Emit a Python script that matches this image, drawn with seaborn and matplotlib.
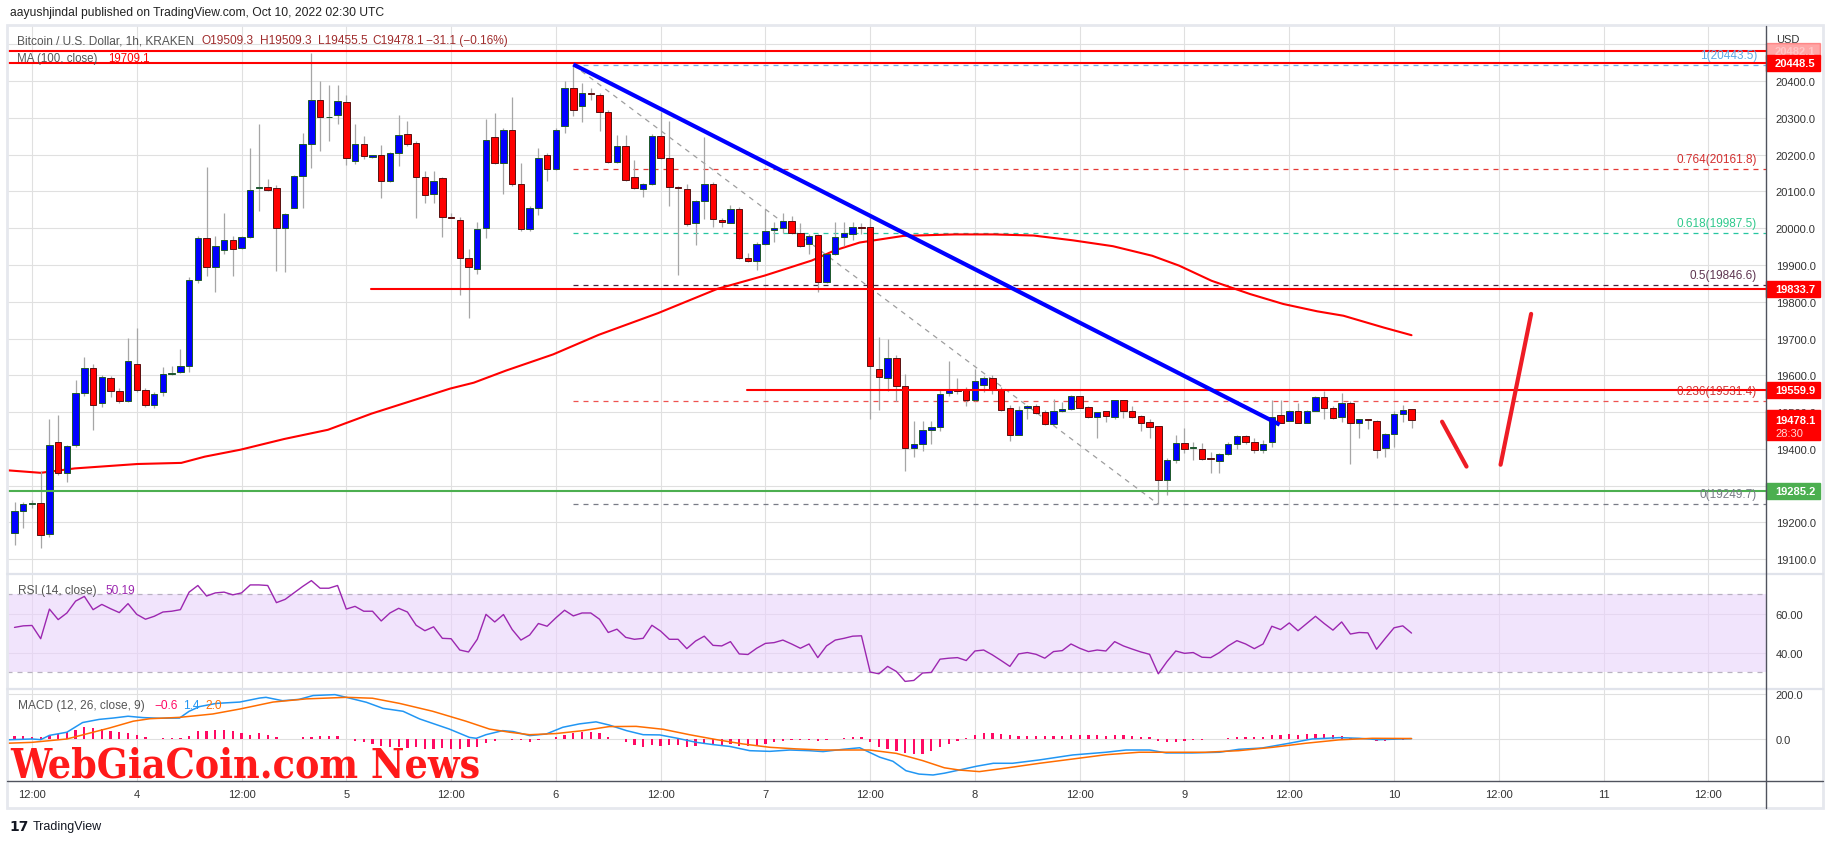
import numpy as np
import pandas as pd
import matplotlib
matplotlib.use("Agg")
import matplotlib.pyplot as plt
import matplotlib.transforms as mtransforms
from matplotlib.patches import Rectangle
from matplotlib.lines import Line2D
from matplotlib import font_manager
import seaborn as sns

# ---------------- DATA ----------------
# hour offsets counted from Oct 3 2022 12:00 UTC (1h candles, BTC/USD Kraken)
candle_hours = list(range(-2, 159))

opens = [
    19172, 19232, 19249, 19254, 19170, 19420, 19335, 19411, 19552, 19620,
    19525, 19593, 19557, 19530, 19632, 19561, 19520, 19554, 19603, 19608,
    19624, 19859, 19972, 19894, 19942, 19967, 19946, 19976, 20108, 20111,
    20108, 20001, 20055, 20142, 20230, 20349, 20301, 20307, 20342, 20183,
    20230, 20194, 20198, 20127, 20203, 20257, 20232, 20138, 20094, 20135,
    20030, 20022, 19919, 19890, 20001, 20247, 20176, 20266, 20120, 19998,
    20055, 20198, 20162, 20279, 20380, 20332, 20367, 20361, 20315, 20181,
    20222, 20138, 20107, 20120, 20250, 20191, 20112, 20107, 20013, 20074,
    20120, 20022, 20015, 20052, 19920, 19910, 19957, 19995, 20001, 20020,
    19988, 19956, 19981, 19854, 19930, 19977, 19985, 20003, 20003, 19616,
    19592, 19646, 19572, 19402, 19414, 19452, 19459, 19551, 19558, 19560,
    19532, 19575, 19593, 19562, 19510, 19439, 19510, 19516, 19500, 19468,
    19502, 19508, 19543, 19513, 19487, 19502, 19487, 19532, 19502, 19489,
    19472, 19461, 19316, 19369, 19416, 19402, 19401, 19373, 19366, 19387,
    19414, 19436, 19419, 19398, 19419, 19491, 19477, 19504, 19471, 19504,
    19542, 19512, 19488, 19525, 19471, 19480, 19477, 19402, 19441, 19496,
    19509.3]

highs = [
    19257, 19257, 19262, 19340, 19481, 19491, 19410, 19588, 19649, 19630,
    19600, 19598, 19565, 19702, 19730, 19565, 19555, 19622, 19626, 19671,
    19868, 19980, 20167, 19980, 20040, 19980, 19980, 20218, 20283, 20133,
    20118, 20042, 20145, 20259, 20476, 20400, 20390, 20388, 20362, 20283,
    20250, 20200, 20226, 20208, 20308, 20290, 20237, 20155, 20155, 20140,
    20042, 20030, 19944, 20018, 20296, 20314, 20271, 20357, 20176, 20061,
    20218, 20203, 20271, 20400, 20443.5, 20395, 20380, 20368, 20320, 20252,
    20253, 20184, 20124, 20257, 20315, 20290, 20115, 20120, 20076, 20247,
    20125, 20027, 20062, 20057, 19932, 19962, 20051, 20017, 20041, 20033,
    20014, 19984, 19983, 19930, 20016, 20016, 20018, 20013, 20037, 19705,
    19698, 19654, 19603, 19477, 19477, 19475, 19560, 19639, 19592, 19568,
    19616, 19598, 19600, 19567, 19519, 19516, 19520, 19522, 19507, 19537,
    19528, 19547, 19545, 19516, 19501, 19504, 19534, 19534, 19516, 19491,
    19481, 19461, 19375, 19439, 19457, 19420, 19415, 19392, 19389, 19418,
    19439, 19439, 19429, 19423, 19534, 19534, 19507, 19525, 19507, 19543,
    19557, 19517, 19551, 19530, 19482, 19482, 19479, 19444, 19502, 19518,
    19509.3]

lows = [
    19140, 19186, 19240, 19132, 19160, 19330, 19310, 19405, 19545, 19452,
    19515, 19541, 19525, 19528, 19555, 19515, 19512, 19545, 19602, 19606,
    19608, 19852, 19870, 19827, 19930, 19871, 19944, 19974, 20047, 20100,
    19883, 19881, 20055, 20055, 20164, 20210, 20238, 20283, 20172, 20175,
    20188, 20190, 20083, 20125, 20169, 20222, 20027, 20068, 20068, 19976,
    20027, 19818, 19757, 19876, 19973, 20174, 20093, 20115, 19993, 19993,
    20037, 20127, 20159, 20259, 20305, 20288, 20348, 20264, 20178, 20178,
    20127, 20107, 20086, 20118, 20188, 20059, 19874, 20006, 19954, 20026,
    20003, 20003, 20013, 19915, 19908, 19886, 19955, 19962, 19988, 19983,
    19949, 19930, 19827, 19850, 19927, 19952, 19967, 19983, 19481, 19505,
    19557, 19530, 19339, 19378, 19393, 19413, 19450, 19543, 19550, 19516,
    19530, 19555, 19550, 19502, 19422, 19437, 19482, 19495, 19464, 19466,
    19501, 19506, 19512, 19484, 19430, 19474, 19482, 19485, 19484, 19448,
    19430, 19249.7, 19275, 19361, 19390, 19370, 19370, 19334, 19334, 19384,
    19400, 19412, 19389, 19389, 19405, 19470, 19475, 19470, 19470, 19502,
    19482, 19480, 19473, 19359, 19430, 19455, 19375, 19378, 19405, 19473,
    19455.5]

closes = [
    19232, 19249, 19252, 19167, 19411, 19335, 19408, 19552, 19620, 19520,
    19596, 19557, 19530, 19640, 19561, 19520, 19549, 19603, 19606, 19624,
    19859, 19972, 19894, 19951, 19967, 19944, 19976, 20103, 20111, 20105,
    20001, 20039, 20142, 20230, 20349, 20302, 20303, 20347, 20190, 20230,
    20195, 20198, 20127, 20203, 20254, 20230, 20138, 20091, 20127, 20031,
    20028, 19919, 19895, 19998, 20240, 20176, 20266, 20120, 19998, 20055,
    20191, 20162, 20266, 20380, 20322, 20367, 20365, 20315, 20181, 20222,
    20132, 20110, 20120, 20250, 20191, 20112, 20110, 20010, 20074, 20120,
    20025, 20018, 20052, 19920, 19910, 19957, 19993, 20001, 20020, 19988,
    19951, 19979, 19854, 19930, 19976, 19988, 20003, 20000, 19624, 19596,
    19646, 19572, 19402, 19414, 19452, 19459, 19548, 19560, 19557, 19532,
    19584, 19593, 19562, 19507, 19439, 19507, 19516, 19498, 19468, 19502,
    19508, 19543, 19512, 19487, 19500, 19490, 19532, 19502, 19487, 19471,
    19460, 19316, 19369, 19416, 19401, 19403, 19373, 19372, 19387, 19414,
    19436, 19419, 19398, 19414, 19488, 19471, 19504, 19471, 19504, 19542,
    19512, 19484, 19525, 19471, 19480, 19479, 19398, 19441, 19496, 19507,
    19478.1]

# MA(100)
ma_hours = [-2.9, 1.0, 4.9, 12.1, 17.1, 19.8, 23.9, 28.9, 33.9, 38.9, 43.4, 47.9,
            50.6, 54.3, 59.7, 64.9, 71.7, 78.5, 83.9, 89.3, 92.0, 94.8, 99.8,
            105.7, 110.2, 114.7, 119.2, 123.8, 128.3, 131.4, 135.1, 139.5,
            143.3, 147.2, 150.2, 154.8, 158.0]
ma_values = [19342, 19335, 19347, 19359, 19362, 19379, 19398, 19427, 19452, 19496,
             19530, 19564, 19580, 19613, 19657, 19710, 19769, 19835, 19871, 19912,
             19940, 19961, 19979, 19983, 19983, 19980, 19967, 19951, 19925, 19898,
             19857, 19821, 19794, 19774, 19762, 19730, 19709.1]

# RSI(14), one value per candle
rsi_values = [
    53.1, 53.9, 54.1, 47.3, 62.5, 57.1, 60.5, 66.6, 69.0, 62.2,
    64.9, 62.7, 60.7, 65.3, 59.8, 57.3, 58.8, 61.0, 61.4, 62.2,
    71.2, 74.6, 69.2, 70.8, 71.2, 69.8, 70.8, 74.9, 74.9, 74.6,
    65.8, 67.5, 70.8, 74.1, 77.1, 73.2, 73.2, 74.6, 62.5, 63.9,
    61.4, 61.4, 56.4, 60.5, 62.9, 61.0, 54.2, 51.4, 53.4, 47.5,
    47.3, 41.5, 40.5, 47.0, 59.8, 55.9, 59.7, 52.0, 46.6, 49.2,
    55.1, 53.7, 58.0, 61.9, 59.0, 60.5, 60.5, 57.3, 50.5, 52.2,
    48.0, 47.0, 47.5, 54.2, 51.2, 47.0, 47.0, 42.2, 46.1, 48.6,
    43.9, 43.6, 45.8, 39.5, 39.2, 42.4, 44.9, 45.3, 46.6, 44.6,
    42.4, 44.6, 37.6, 43.6, 46.6, 47.5, 48.6, 48.8, 30.2, 29.3,
    33.1, 30.5, 25.4, 25.9, 29.7, 30.0, 36.8, 37.3, 37.6, 36.1,
    41.0, 41.5, 39.0, 36.1, 33.1, 39.5, 40.2, 39.3, 37.3, 40.7,
    41.2, 44.6, 42.4, 40.7, 41.5, 41.0, 45.8, 43.6, 42.0, 40.5,
    39.3, 29.3, 35.6, 41.0, 39.8, 40.2, 37.8, 37.6, 40.2, 43.6,
    46.3, 44.6, 42.2, 44.6, 53.7, 52.0, 55.4, 51.4, 55.1, 58.8,
    55.1, 51.7, 55.9, 49.7, 50.5, 50.3, 41.9, 47.5, 52.9, 53.9,
    50.19]

# MACD(12, 26, 9) lines
macd_hours = [-2.9, 0, 1, 2, 4, 5.8, 7.7, 9.3, 11, 12.7, 14.6, 16.9, 18, 19.2, 21.1,
              23.8, 26.1, 26.8, 28.7, 30.6, 32.2, 34.7, 36, 38.3, 40.2, 42.5, 44.4,
              47.8, 50.1, 50.9, 52, 53.9, 55.1, 57, 58.9, 60.8, 62.7, 64.6, 66.1,
              68.1, 70, 71.9, 73.8, 76.1, 78, 79.9, 82.2, 84.5, 86.8, 89, 90.6, 92.9,
              94.8, 95.9, 97.1, 98.6, 100.1, 101.6, 103.2, 104.5, 106.2, 108.2,
              110.1, 112.3, 115.4, 119.2, 123, 125.3, 128, 129.9, 132.9, 136, 138.2,
              140.9, 144, 146.6, 149.7, 152, 154.2, 158]
macd_values = [-4, 0, -3, 16, 30, 73, 87, 93, 101, 95, 92, 93, 123, 144, 158,
               164, 182, 185, 170, 176, 193, 197, 185, 163, 136, 123, 89,
               44, 7, 3, 19, 37, 33, 15, 22, 52, 67, 76, 62,
               37, 19, 18, 4, -15, -25, -33, -52, -55, -49, -52, -56, -46,
               -39, -59, -81, -99, -141, -156, -160, -152, -138, -121,
               -108, -108, -93, -71, -59, -49, -49, -62, -62, -59, -46,
               -40, -19, 0, 6, 3, -3, 1.4]
signal_hours = [-2.9, 0, 4, 6.2, 8.9, 11.6, 13.5, 16.9, 20.7, 23.8, 27.6, 31.4, 36,
                39, 42.1, 45.9, 49.7, 52.4, 54.7, 57, 60, 63.1, 66.1, 69.2, 72.3,
                75.3, 78.4, 81.4, 84.5, 87.5, 90.6, 93.6, 95.9, 99, 102, 104.5,
                106.2, 108.5, 111.6, 115.4, 119.2, 123, 126.8, 130.6, 134.4, 138.2,
                142.1, 145.9, 149.7, 153.5, 158]
signal_values = [-19, -15, 0, 22, 49, 79, 90, 96, 111, 133, 164, 178, 185,
                 181, 158, 123, 79, 44, 30, 19, 24, 37, 55, 56, 43,
                 19, -3, -22, -37, -44, -49, -49, -49, -64, -96, -128,
                 -138, -145, -129, -108, -89, -70, -59, -59, -59, -52,
                 -37, -19, -4, 3, 2.0]
hist_values = [
    15, 12, 7, 7, 15, 22, 30, 40, 52, 49,
    44, 37, 33, 25, 16, 7, 1, 3, 4, 4,
    12, 34, 37, 40, 40, 37, 25, 19, 25, 19,
    7, 1, 0, 7, 10, 13, 13, 13, 0, -7,
    -15, -22, -30, -34, -37, -40, -37, -44, -44, -40,
    -44, -44, -34, -37, -19, -7, 0, -3, -4, -12,
    -3, -1, 7, 19, 25, 30, 33, 27, 7, -1,
    -15, -25, -37, -25, -30, -27, -25, -34, -30, -22,
    -27, -27, -22, -30, -30, -25, -22, -15, -7, -4,
    -4, -3, -7, -4, -1, 4, 10, 10, -15, -34,
    -44, -52, -64, -67, -67, -55, -37, -22, -7, 4,
    18, 27, 25, 22, 18, 13, 13, 13, 13, 13,
    13, 18, 18, 16, 16, 13, 18, 18, 13, 7,
    7, -7, -12, -12, -7, -4, -4, -1, -1, 4,
    7, 7, 7, 7, 18, 18, 21, 16, 21, 21,
    21, 16, 12, 4, 3, 1, -7, -7, -3, -3,
    -0.6]

# drawn levels
fib_prices = [20443.5, 20161.8, 19987.5, 19846.6, 19531.4, 19249.7]
fib_labels = ["1(20443.5)", "0.764(20161.8)", "0.618(19987.5)", "0.5(19846.6)",
              "0.236(19531.4)", "0(19249.7)"]
fib_colors = ["#64b5f6", "#e53935", "#26c6a0", "#4a2040", "#ef5350", "#787b86"]
fib_text_colors = ["#5aa9e6", "#d32f2f", "#2ec98c", "#5d3450", "#d32f2f", "#787b86"]
fib_start = 62

level_prices = [20482.1, 20448.5, 19833.7, 19559.9, 19285.2]
level_starts = [-2.86, -2.86, 38.8, 81.9, -2.86]
level_colors = ["#ff0000", "#ff0000", "#ff0000", "#ff0000", "#4caf50"]

trend_hours = [62, 142.9]
trend_prices = [20445, 19466]
fib_diag_hours = [62, 129]
fib_diag_prices = [20443.5, 19249.7]
sketch1_hours = [161.5, 164.3]
sketch1_prices = [19474, 19352]
sketch2_hours = [168.2, 171.7]
sketch2_prices = [19357, 19767]

price_ticks = list(range(19100, 20501, 100))
time_ticks = list(range(0, 193, 12))
time_labels = ["12:00", "4", "12:00", "5", "12:00", "6", "12:00", "7", "12:00",
               "8", "12:00", "9", "12:00", "10", "12:00", "11", "12:00"]

# ---------------- STYLE / LAYOUT ----------------
sns.set_style("white")
plt.rcParams["font.family"] = ["Liberation Sans", "DejaVu Sans"]

W, H = 1834, 845
fig = plt.figure(figsize=(W / 100, H / 100), dpi=100)


def rect(x0, y0, x1, y1):
    return [x0 / W, 1 - y1 / H, (x1 - x0) / W, (y1 - y0) / H]


def fx(px):
    return px / W


def fy(py):
    return 1 - py / H


ax_p = fig.add_axes(rect(7, 27, 1766, 575))
ax_r = fig.add_axes(rect(7, 575, 1766, 690), sharex=ax_p)
ax_m = fig.add_axes(rect(7, 690, 1766, 782), sharex=ax_p)

XMIN, XMAX = -2.86, 198.6
GRID = "#e0e0e0"
TXT = "#333333"

for ax in (ax_p, ax_r, ax_m):
    ax.set_facecolor("white")
    for s in ax.spines.values():
        s.set_visible(False)
    ax.set_axisbelow(True)
    ax.grid(True, color=GRID, lw=0.8)
    ax.yaxis.tick_right()
    ax.tick_params(axis="y", length=0, pad=7, labelsize=8, labelcolor=TXT)
    ax.tick_params(axis="x", length=0)
    ax.set_xlim(XMIN, XMAX)
    ax.set_xticks(time_ticks)
ax_p.tick_params(labelbottom=False)
ax_r.tick_params(labelbottom=False)
ax_m.set_xticklabels(time_labels)
ax_m.tick_params(axis="x", pad=6, labelsize=8, labelcolor=TXT)

# ---------------- PRICE PANEL ----------------
ax_p.set_ylim(19060, 20549.5)
ax_p.set_yticks(price_ticks)
ax_p.set_yticklabels([f"{v:.1f}" if v < 20500 else "" for v in price_ticks])
px_per_price = 548 / (20549.5 - 19060)

df = pd.DataFrame({"hour": candle_hours, "open": opens, "high": highs,
                   "low": lows, "close": closes})
up = df["close"] >= df["open"]

# fib levels (dashed) and labels
blend_p = mtransforms.blended_transform_factory(ax_p.transAxes, ax_p.transData)
for price, lab, col, tcol in zip(fib_prices, fib_labels, fib_colors, fib_text_colors):
    ax_p.plot([fib_start, XMAX], [price, price], ls=(0, (4, 4)), color=col, lw=0.9, zorder=2)
    ax_p.annotate(lab, xy=(1 - 9 / 1759, price), xycoords=blend_p, xytext=(0, 7),
                  textcoords="offset points", ha="right", va="center",
                  color=tcol, fontsize=8.5, zorder=6)

ax_p.plot(fib_diag_hours, fib_diag_prices, ls=(0, (4, 4)), color="#9e9e9e", lw=0.9, zorder=2.5)

sns.lineplot(x=ma_hours, y=ma_values, ax=ax_p, color="#ff0000", lw=1.5,
             estimator=None, sort=False, legend=False, zorder=3)

# candles
ax_p.vlines(df["hour"], df["low"], df["high"], color="#a6a6a6", lw=0.9, zorder=3.5)
body_lo = np.minimum(df["open"], df["close"])
body_h = np.maximum((df["close"] - df["open"]).abs(), 2.5)
ax_p.bar(df["hour"], body_h, bottom=body_lo, width=0.74,
         color=np.where(up, "#0000ff", "#ff0000"),
         edgecolor=np.where(up, "#1f5a2a", "#5a1010"), linewidth=0.7, zorder=4)

# horizontal levels
for price, start, col in zip(level_prices, level_starts, level_colors):
    ax_p.plot([start, XMAX], [price, price], color=col, lw=1.5, zorder=5)

ax_p.plot(trend_hours, trend_prices, color="#0000ff", lw=3, zorder=5.5,
          solid_capstyle="butt")
for hs, ps in ((sketch1_hours, sketch1_prices), (sketch2_hours, sketch2_prices)):
    ax_p.plot(hs, ps, color="#ee1c25", lw=3, solid_capstyle="round", zorder=5.5)


# price tags on the scale
def price_tag(value, text, color, top_px=8, bot_px=8, alpha=1.0):
    y0 = value - bot_px / px_per_price
    hgt = (top_px + bot_px) / px_per_price
    ax_p.add_patch(Rectangle((1.0, y0), 54 / 1759, hgt, transform=blend_p,
                             color=color, clip_on=False, zorder=20, alpha=alpha))
    ax_p.text(1.0 + 9 / 1759, value, text, transform=blend_p, color="white",
              fontsize=8, fontweight="bold", ha="left", va="center",
              clip_on=False, zorder=21, alpha=alpha)


price_tag(20482.1, "20482.1", "#ff0000", alpha=0.35)
price_tag(20448.5, "20448.5", "#ff0000")
price_tag(19833.7, "19833.7", "#ff0000")
price_tag(19559.9, "19559.9", "#ff0000")
price_tag(19478.1, "19478.1", "#ff0000", top_px=10, bot_px=20)
ax_p.text(1.0 + 9 / 1759, 19478.1 - 12.5 / px_per_price, "28:30", transform=blend_p,
          color="#ffd6d6", fontsize=8, ha="left", va="center", clip_on=False, zorder=21)
price_tag(19285.2, "19285.2", "#4caf50")

# ---------------- RSI PANEL ----------------
ax_r.set_ylim(21.5, 80.5)
ax_r.set_yticks([40, 60])
ax_r.set_yticklabels(["40.00", "60.00"])
ax_r.axhspan(30, 70, color="#e9d2fb", alpha=0.6, lw=0, zorder=1)
for lvl in (30, 70):
    ax_r.axhline(lvl, color="#b8b2c0", lw=0.9, ls=(0, (4, 4)), zorder=1.5)
sns.lineplot(x=candle_hours, y=rsi_values, ax=ax_r, color="#9c27b0", lw=1.0,
             estimator=None, sort=False, legend=False, zorder=3)

# ---------------- MACD PANEL ----------------
ax_m.set_ylim(-186.7, 222)
ax_m.set_yticks([0, 200])
ax_m.set_yticklabels(["0.0", "200.0"])
ax_m.bar(candle_hours, hist_values, width=0.26, color="#ff0a64", lw=0, zorder=2)
sns.lineplot(x=macd_hours, y=macd_values, ax=ax_m, color="#2196f3", lw=1.1,
             estimator=None, sort=False, legend=False, zorder=3)
sns.lineplot(x=signal_hours, y=signal_values, ax=ax_m, color="#ff6d00", lw=1.1,
             estimator=None, sort=False, legend=False, zorder=3)


# ---------------- FRAME LINES ----------------
def fig_line(x0, y0, x1, y1, color, lw):
    fig.add_artist(Line2D([fx(x0), fx(x1)], [fy(y0), fy(y1)], transform=fig.transFigure,
                          color=color, lw=lw, zorder=5))


fig.add_artist(Rectangle((fx(7), fy(809)), 1816 / W, 783 / H, transform=fig.transFigure,
                         fill=False, ec="#e6e8ee", lw=2, zorder=4))
fig_line(7, 575, 1823, 575, "#e0e3eb", 1.6)
fig_line(7, 690, 1823, 690, "#e0e3eb", 1.6)
fig_line(7, 782, 1823, 782, "#50535e", 1.0)
fig_line(1766, 27, 1766, 809, "#50535e", 1.0)

# ---------------- TEXTS ----------------
fig.text(fx(10), fy(13), "aayushjindal published on TradingView.com, Oct 10, 2022 02:30 UTC",
         fontsize=8.7, color="#222222", va="center")
fig.text(fx(17), fy(41), "Bitcoin / U.S. Dollar, 1h, KRAKEN", fontsize=8.6, color="#555555", va="center")
val_color = "#a02c2c"
for xpos, s in ((202, "O19509.3"), (260, "H19509.3"), (318, "L19455.5"),
                (372, "C19478.1"), (426, "\u221231.1 (\u22120.16%)")):
    fig.text(fx(xpos), fy(41), s, fontsize=8.6, color=val_color, va="center")
fig.text(fx(17), fy(59), "MA (100, close)", fontsize=8.3, color="#555555", va="center")
fig.text(fx(108), fy(59), "19709.1", fontsize=8.3, color="#ff0000", va="center")
fig.text(fx(18), fy(591), "RSI (14, close)", fontsize=8.6, color="#555555", va="center")
fig.text(fx(106), fy(591), "50.19", fontsize=8.6, color="#9c27b0", va="center")
fig.text(fx(18), fy(706), "MACD (12, 26, close, 9)", fontsize=8.6, color="#555555", va="center")
fig.text(fx(154), fy(706), "\u22120.6", fontsize=8.6, color="#ff0a64", va="center")
fig.text(fx(183), fy(706), "1.4", fontsize=8.6, color="#2196f3", va="center")
fig.text(fx(205), fy(706), "2.0", fontsize=8.6, color="#ff6d00", va="center")
fig.text(fx(1776), fy(40), "USD", fontsize=8, color=TXT, va="center")

# watermark: pick a condensed heavy face if one is installed, fit it to the width
wm_family, wm_stretch = ["DejaVu Serif"], "normal"
for fam, stretch in (("DejaVu Serif", "condensed"), ("DejaVu Serif Condensed", "normal"),
                     ("Noto Serif", "condensed"), ("DejaVu Sans", "condensed"),
                     ("Noto Sans", "condensed"), ("Liberation Sans Narrow", "normal")):
    try:
        path = font_manager.findfont(font_manager.FontProperties(
            family=fam, weight="bold", stretch=stretch), fallback_to_default=False)
    except Exception:
        continue
    if "ondensed" in path or "arrow" in path:
        wm_family, wm_stretch = [fam], stretch
        break

wm = fig.text(fx(10), fy(777), "WebGiaCoin.com News", fontsize=40, fontweight="heavy",
              family=wm_family, stretch=wm_stretch, color="#ff1a1a", va="baseline", zorder=30)
fig.canvas.draw()
wm_w = wm.get_window_extent().width
wm.set_fontsize(40 * 470 / wm_w)

# footer logo
fig.text(fx(9), fy(827), "17", fontsize=10, fontweight="heavy", color="#131722",
         va="center", family=["DejaVu Sans"])
fig.text(fx(33), fy(827), "TradingView", fontsize=9, color="#131722", va="center")

fig.savefig("out.png", dpi=100)
